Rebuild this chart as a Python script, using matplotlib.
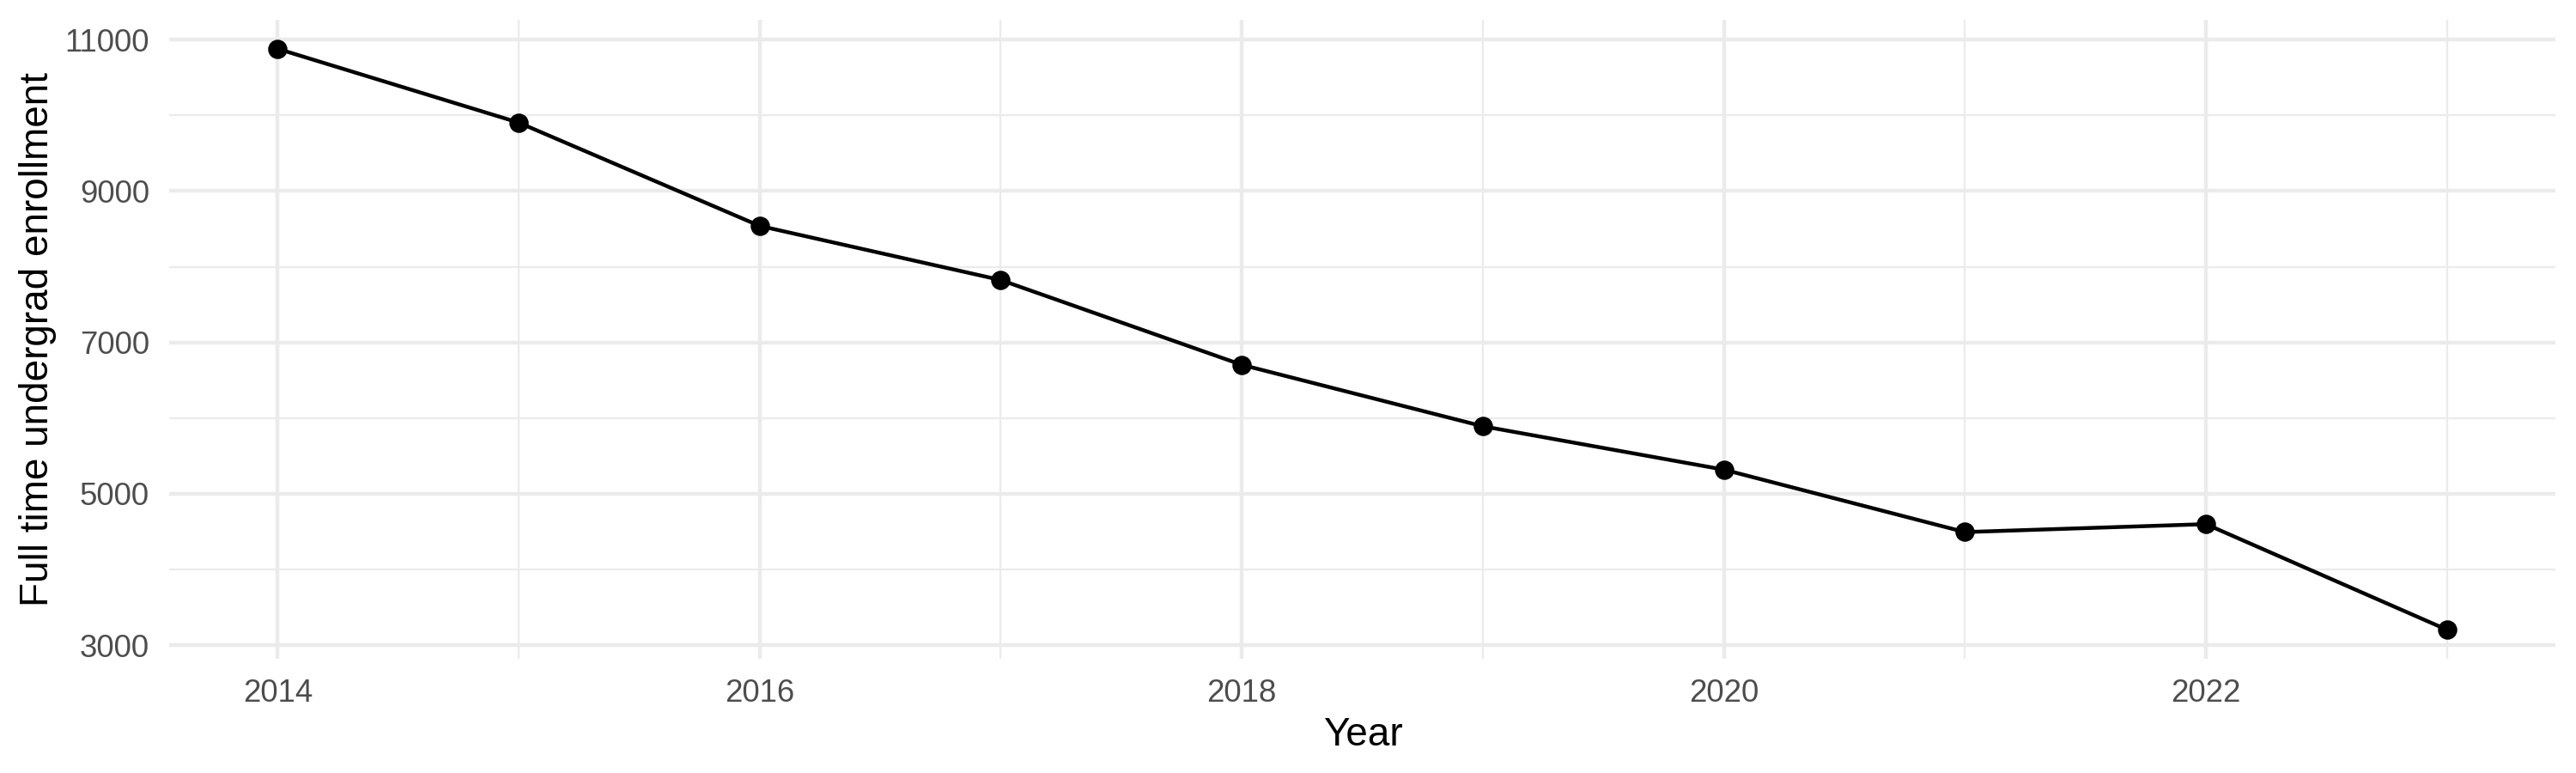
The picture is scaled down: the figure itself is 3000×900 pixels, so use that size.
import matplotlib
matplotlib.use("Agg")
import matplotlib.pyplot as plt
from matplotlib.ticker import FixedLocator

years = [2014, 2015, 2016, 2017, 2018, 2019, 2020, 2021, 2022, 2023]
enrollment = [10880, 9905, 8540, 7825, 6705, 5893, 5320, 4495, 4600, 3205]
x_major = [2014, 2016, 2018, 2020, 2022]
x_minor = [2015, 2017, 2019, 2021, 2023]
y_major = [3000, 5000, 7000, 9000, 11000]
y_minor = [4000, 6000, 8000, 10000]
x_title = "Year"
y_title = "Full time undergrad enrollment"

plt.rcParams['font.family'] = ['Liberation Sans', 'DejaVu Sans']

fig = plt.figure(figsize=(10, 3), dpi=300)
ax = fig.add_axes([197/3000, 1 - 767/900, 2779/3000, (767 - 23)/900])

grid = '#EBEBEB'
ax.plot(years, enrollment, color='black', linewidth=1.07, zorder=3,
        solid_capstyle='butt')
ax.plot(years, enrollment, 'o', color='black', markersize=4.4, zorder=4)

ax.margins(x=0.05, y=0.05)
ax.xaxis.set_major_locator(FixedLocator(x_major))
ax.xaxis.set_minor_locator(FixedLocator(x_minor))
ax.yaxis.set_major_locator(FixedLocator(y_major))
ax.yaxis.set_minor_locator(FixedLocator(y_minor))
ax.set_xticklabels([str(v) for v in x_major])
ax.set_yticklabels([str(v) for v in y_major])

ax.grid(which='major', color=grid, linewidth=1.07)
ax.grid(which='minor', color=grid, linewidth=0.53)
ax.set_axisbelow(True)
for s in ax.spines.values():
    s.set_visible(False)

ax.tick_params(which='both', length=0)
ax.tick_params(axis='x', labelsize=8.8, labelcolor='#4D4D4D', pad=5.6)
ax.tick_params(axis='y', labelsize=8.8, labelcolor='#4D4D4D', pad=5.5)

fig.text(1587/3000, 1 - 867.7/900, x_title, ha='center', va='baseline',
         fontsize=11, color='black')
fig.text(56/3000, 1 - 395/900, y_title, ha='center', va='baseline',
         rotation=90, rotation_mode='anchor', fontsize=11, color='black')

fig.savefig('out.png', dpi=300, facecolor='white')
